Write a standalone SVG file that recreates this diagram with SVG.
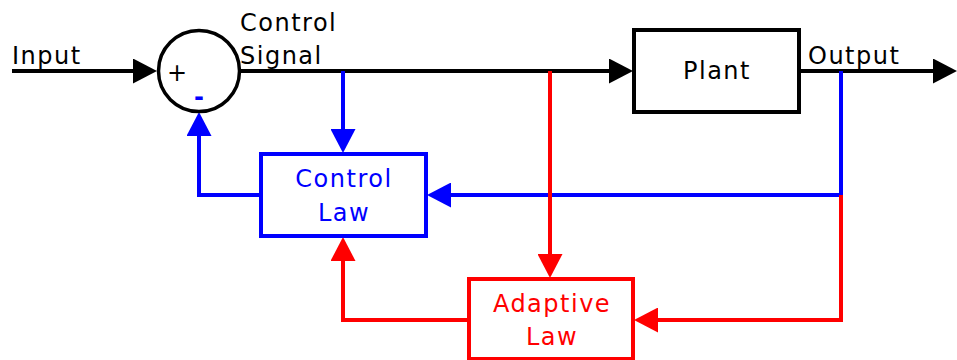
<svg xmlns="http://www.w3.org/2000/svg" width="957" height="360" viewBox="0 0 957 360">
<style>
text{font-family:"DejaVu Sans",sans-serif;font-size:24px;letter-spacing:1.5px}
.k{stroke:#000;fill:none;stroke-width:4}
.b{stroke:#00f;fill:none;stroke-width:4}
.r{stroke:#f00;fill:none;stroke-width:4}
.mid{text-anchor:middle}
</style>
<defs>
<marker id="ak" markerUnits="userSpaceOnUse" markerWidth="24" markerHeight="25" refX="12" refY="12.5" orient="auto"><path d="M0,0L24,12.5L0,25z" fill="#000"/></marker>
<marker id="ab" markerUnits="userSpaceOnUse" markerWidth="24" markerHeight="25" refX="12" refY="12.5" orient="auto"><path d="M0,0L24,12.5L0,25z" fill="#00f"/></marker>
<marker id="ar" markerUnits="userSpaceOnUse" markerWidth="24" markerHeight="25" refX="12" refY="12.5" orient="auto"><path d="M0,0L24,12.5L0,25z" fill="#f00"/></marker>
</defs>
<g id="connectors">
<path class="k" d="M12,71H145" marker-end="url(#ak)"/>
<path class="k" d="M240,71H621" marker-end="url(#ak)"/>
<path class="k" d="M800,71H945" marker-end="url(#ak)"/>
<path class="b" d="M343,71V141" marker-end="url(#ab)"/>
<path class="b" d="M841,71V195H439" marker-end="url(#ab)"/>
<path class="b" d="M260,195H199V124" marker-end="url(#ab)"/>
<path class="r" d="M550,71V266" marker-end="url(#ar)"/>
<path class="r" d="M841,195V320H646" marker-end="url(#ar)"/>
<path class="r" d="M468,320H343V249" marker-end="url(#ar)"/>
</g>
<g id="sum">
<circle cx="199" cy="71" r="40.5" fill="#fff" stroke="#000" stroke-width="3.5"/>
<text x="177" y="81" class="mid" style="letter-spacing:0">+</text>
<text x="199" y="105" class="mid" fill="#00f" style="letter-spacing:0;font-weight:bold">-</text>
</g>
<g id="plant">
<rect x="634" y="30" width="165" height="82" fill="#fff" stroke="#000" stroke-width="4"/>
<text x="717" y="79" class="mid">Plant</text>
</g>
<g id="control-law">
<rect x="261" y="154" width="165" height="82" fill="#fff" stroke="#00f" stroke-width="4"/>
<text x="344" y="187" class="mid" fill="#00f">Control</text>
<text x="344" y="221" class="mid" fill="#00f">Law</text>
</g>
<g id="adaptive-law">
<rect x="469" y="279" width="164" height="80" fill="#fff" stroke="#f00" stroke-width="4"/>
<text x="552" y="312" class="mid" fill="#f00">Adaptive</text>
<text x="552" y="345" class="mid" fill="#f00">Law</text>
</g>
<g id="labels">
<text x="12" y="64">Input</text>
<text x="240" y="31">Control</text>
<text x="240" y="64">Signal</text>
<text x="808" y="64">Output</text>
</g>
</svg>
